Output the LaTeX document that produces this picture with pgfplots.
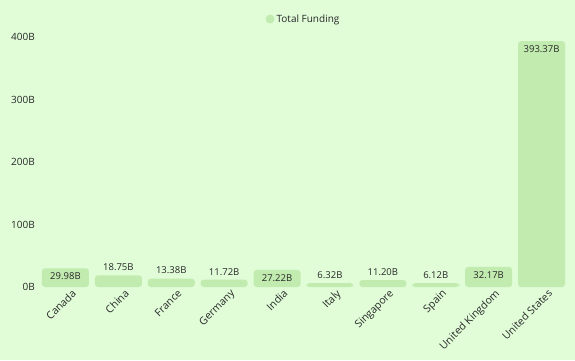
\documentclass[border=0pt]{standalone}
\usepackage{pgfplots}
\pgfplotsset{compat=1.18}
\usepackage{fontspec}
\setmainfont{Open Sans}
\definecolor{bgc}{RGB}{224,253,216}
\definecolor{barc}{RGB}{194,235,176}
\definecolor{txt}{RGB}{40,40,40}
\begin{document}
\begin{tikzpicture}[x=1pt,y=1pt]
\fill[bgc] (0,0) rectangle (575,360);
\useasboundingbox (0,0) rectangle (575,360);
\begin{axis}[
  at={(39pt,73pt)}, anchor=south west,
  scale only axis, width=529pt, height=250pt,
  xmin=-0.5, xmax=9.5, ymin=0, ymax=400,
  axis line style={draw=none},
  major tick length=0pt,
  xtick={0,...,9},
  xticklabels={Canada,China,France,Germany,India,Italy,Singapore,Spain,United Kingdom,United States},
  ytick={0,100,200,300,400},
  yticklabels={0B,100B,200B,300B,400B},
  y tick label style={font=\fontsize{10}{12}\selectfont, text=txt, inner sep=0pt, xshift=-4pt},
  x tick label style={font=\fontsize{10.5}{12}\selectfont, text=txt, rotate=45, anchor=north east, inner sep=1pt, xshift=4pt, yshift=-4pt},
  ybar, bar width=47pt, bar shift=0pt,
  point meta=explicit symbolic,
  legend style={at={(0.5,1.072)}, anchor=center, draw=none, fill=none, font=\fontsize{10}{12}\selectfont, text=txt},
  legend image code/.code={\fill[barc] (0.25em,0) circle (4.5pt);},
]
\addplot[fill=barc, draw=none, rounded corners=3pt, nodes near coords, every node near coord/.append style={anchor=north, font=\fontsize{9.5}{11}\selectfont, text=txt, yshift=-1pt}] table[meta=l] {
x y l
0 29.98 29.98B
4 27.22 27.22B
8 32.17 32.17B
9 393.37 393.37B
};
\addlegendentry{Total Funding}
\addplot[fill=barc, draw=none, rounded corners=3pt, nodes near coords, every node near coord/.append style={anchor=south, font=\fontsize{9.5}{11}\selectfont, text=txt, yshift=1pt}, forget plot] table[meta=l] {
x y l
1 18.75 18.75B
2 13.38 13.38B
3 11.72 11.72B
5 6.32 6.32B
6 11.20 11.20B
7 6.12 6.12B
};
\end{axis}
\end{tikzpicture}
\end{document}
